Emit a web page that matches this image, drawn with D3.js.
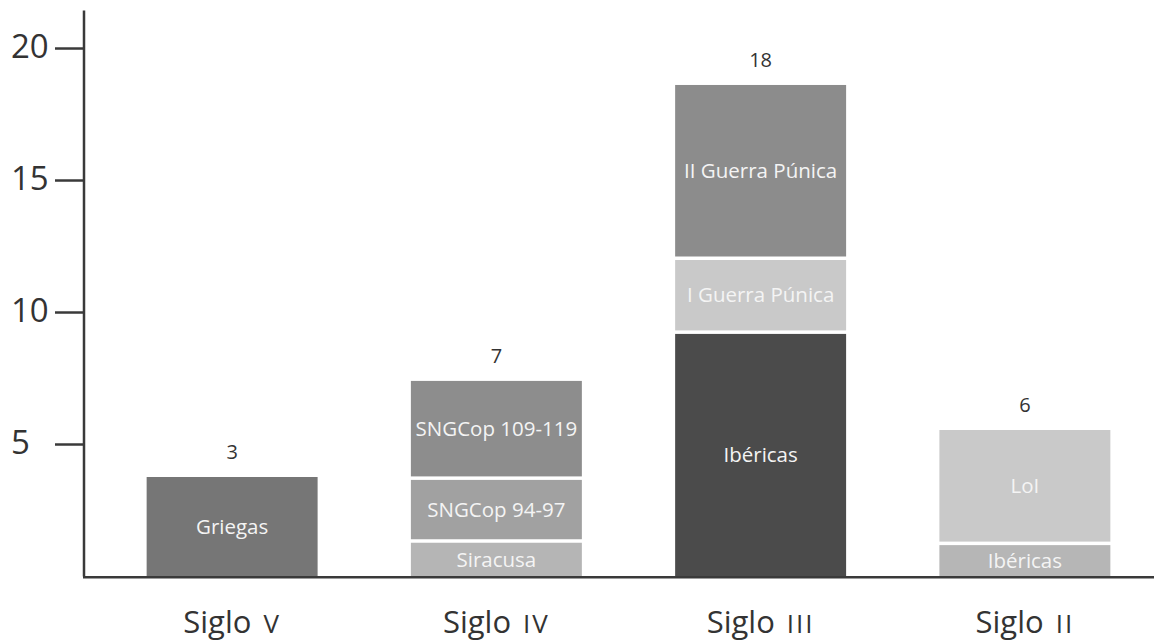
<!DOCTYPE html>
<html>
<head>
<meta charset="utf-8">
<script src="https://cdn.jsdelivr.net/npm/d3@7"></script>
<style>
  html, body { margin: 0; padding: 0; background: #ffffff; }
  svg { display: block; font-family: "Open Sans", "Lato", sans-serif; }
</style>
</head>
<body>
<svg id="chart" width="1154" height="644"></svg>
<script>
// ---- Data ----
const categoryWord = "Siglo";
const categoryNumerals = ["V", "IV", "III", "II"];
const totalLabels = ["3", "7", "18", "6"];
const yTickValues = [5, 10, 15, 20];

// stacked segments (bottom to top within each century)
const segmentCentury = [0, 1, 1, 1, 2, 2, 2, 3, 3];
const segmentLabels = ["Griegas", "Siracusa", "SNGCop 94-97", "SNGCop 109-119",
                       "Ibéricas", "I Guerra Púnica", "II Guerra Púnica",
                       "Ibéricas", "LoI"];
const segmentValues = [3.75, 1.26, 2.38, 3.75, 9.17, 2.80, 6.63, 1.17, 4.36];

// ---- Styles ----
const segmentFill = ["#767676", "#b5b5b5", "#a1a1a1", "#8d8d8d",
                     "#4b4b4b", "#c9c9c9", "#8c8c8c", "#b6b6b6", "#c9c9c9"];
const axisColor = "#3a3a3a";
const gap = 3.5;

const svg = d3.select("#chart");
const W = 1154, H = 644;

const x = d3.scaleBand()
  .domain(d3.range(categoryNumerals.length))
  .range([100, 1157])
  .paddingInner(0.353)
  .paddingOuter(0.1765);

const y = d3.scaleLinear()
  .domain([0, 21.44])
  .range([576, 10]);

// stacking
const cum = new Array(categoryNumerals.length).fill(0);
const segs = segmentValues.map((v, i) => {
  const c = segmentCentury[i];
  const y0 = cum[c];
  const y1 = y0 + v;
  cum[c] = y1;
  return { c, y0, y1, label: segmentLabels[i], fill: segmentFill[i] };
});

const bars = svg.append("g");
const segG = bars.selectAll("g.seg").data(segs).join("g").attr("class", "seg");
segG.append("rect")
  .attr("x", d => x(d.c))
  .attr("width", x.bandwidth())
  .attr("y", d => y(d.y1))
  .attr("height", d => y(d.y0) - y(d.y1) - (d.y0 > 0 ? gap : 0))
  .attr("fill", d => d.fill);
segG.append("text")
  .attr("x", d => x(d.c) + x.bandwidth() / 2)
  .attr("y", d => (y(d.y1) + y(d.y0) - (d.y0 > 0 ? gap : 0)) / 2)
  .attr("dy", "0.35em")
  .attr("text-anchor", "middle")
  .attr("fill", "#f4f4f4")
  .attr("font-size", 20.5)
  .text(d => d.label);

// totals above bars
svg.append("g").selectAll("text").data(totalLabels).join("text")
  .attr("x", (d, i) => x(i) + x.bandwidth() / 2)
  .attr("y", (d, i) => y(cum[i]) - 25)
  .attr("dy", "0.35em")
  .attr("text-anchor", "middle")
  .attr("fill", "#333333")
  .attr("font-size", 20)
  .text(d => d);

// y axis
const yAxis = d3.axisLeft(y).tickValues(yTickValues).tickSize(28.5).tickSizeOuter(0).tickPadding(0);
const gy = svg.append("g").attr("transform", "translate(83.5,0)").call(yAxis);
gy.select(".domain").attr("stroke", axisColor).attr("stroke-width", 2.5);
gy.selectAll(".tick line").attr("stroke", axisColor).attr("stroke-width", 2.5);
gy.selectAll(".tick text")
  .attr("text-anchor", "start")
  .attr("x", -72.5)
  .attr("y", -2)
  .attr("dy", "0.35em")
  .attr("fill", "#333333")
  .attr("font-size", 33)
  .attr("font-family", "'Open Sans', Lato, sans-serif");

// x baseline
svg.append("line")
  .attr("x1", 83).attr("x2", W)
  .attr("y1", y(0) + 1.2).attr("y2", y(0) + 1.2)
  .attr("stroke", axisColor).attr("stroke-width", 2.5);

// x labels
const xl = svg.append("g").selectAll("text").data(categoryNumerals).join("text")
  .attr("x", (d, i) => x(i) + x.bandwidth() / 2)
  .attr("y", 633)
  .attr("text-anchor", "middle")
  .attr("fill", "#333333")
  .attr("font-size", 31);
xl.append("tspan").text(categoryWord);
xl.append("tspan").attr("dx", 12).attr("font-size", 26).attr("letter-spacing", 2).text(d => d);
</script>
</body>
</html>
